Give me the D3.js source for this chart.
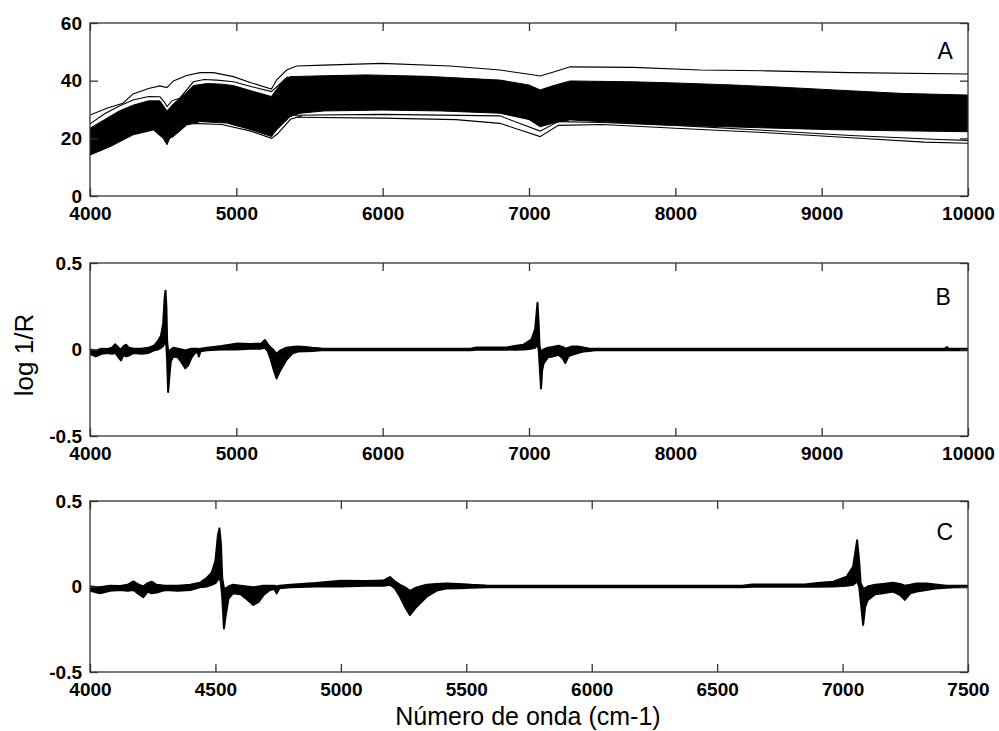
<!DOCTYPE html>
<html>
<head>
<meta charset="utf-8">
<script src="https://cdn.jsdelivr.net/npm/d3@7"></script>
<style>
  body { margin: 0; background: #fff; }
  .tick text { font-family: "Liberation Sans", Arial, sans-serif; font-weight: bold; font-size: 19px; fill: #000; }
  .tick line { stroke: #333; stroke-width: 1.3; }
  .frame { fill: none; stroke: #333; stroke-width: 1.3; }
  .spec { fill: none; stroke: #000; stroke-width: 1.1; }
  .band { fill: #000; stroke: #000; stroke-width: 1; }
  .deriv { fill: #000; stroke: #000; stroke-width: 2; stroke-linejoin: round; }
  .label { font-family: "Liberation Sans", Arial, sans-serif; fill: #000; }
</style>
</head>
<body>
<svg id="chart" width="999" height="731"></svg>
<script>
// Panel A: raw spectra as [wavenumber, value] pairs.
var topLine = [[4000,28.1],[4120,30.5],[4225,32.2],[4294,35.4],[4400,37.3],[4478,38.2],[4526,37.6],[4570,39.9],
  [4660,41.8],[4752,42.8],[4843,42.8],[4980,41.4],[5100,39.3],[5240,37.1],[5275,40.2],[5344,43.7],[5412,45.1],
  [5600,45.4],[5994,46.0],[6460,45.1],[6802,43.7],[7000,42.2],[7076,41.6],[7180,43.2],[7281,44.8],[7712,44.6],
  [8170,43.7],[8626,43.4],[9194,42.8],[10000,42.3]];

var secondLine = [[4000,25.0],[4100,28.5],[4200,31.2],[4294,33.3],[4400,34.5],[4478,34.4],[4510,32.5],[4526,31.0],
  [4560,33.0],[4615,34.0],[4706,39.6],[4780,40.4],[4866,40.2],[4980,39.6],[5100,38.0],[5240,36.2],[5290,38.5],
  [5350,41.4]];

var bandTop = [[4000,23.5],[4100,26.5],[4200,29.5],[4294,31.5],[4400,33.0],[4478,33.0],[4526,29.5],[4570,32.0],
  [4650,35.5],[4706,38.3],[4800,39.0],[4900,38.8],[4980,38.3],[5100,36.5],[5240,34.5],[5275,37.0],[5330,40.5],
  [5367,41.4],[5600,41.7],[5891,42.0],[6300,41.5],[6802,40.2],[7000,38.5],[7076,36.8],[7180,38.5],[7281,39.9],
  [7712,39.6],[8000,39.2],[8394,38.5],[8700,37.8],[9080,36.8],[9536,35.6],[10000,35.0]];

var bandBottom = [[4000,14.2],[4137,17.1],[4294,21.2],[4433,22.9],[4500,20.0],[4526,17.8],[4545,20.0],[4570,20.6],
  [4661,24.6],[4752,25.8],[4934,25.3],[5100,23.0],[5207,21.2],[5240,20.6],[5275,22.9],[5367,27.5],[5435,28.7],
  [5600,29.5],[6000,29.8],[6400,29.5],[6802,28.7],[7000,26.5],[7076,24.0],[7180,25.5],[7281,26.4],[7486,25.8],
  [7942,24.6],[8626,23.6],[9080,23.0],[9536,22.6],[10000,22.3]];

var lowLineLeft = [[4560,24.0],[4700,25.2],[4900,24.8],[5100,22.5],[5240,20.0],[5280,21.5],[5370,26.6],[5450,27.8]];
var lowLineA = [[5400,28.0],[6000,28.3],[6800,27.8],[7076,22.5],[7200,25.8],[7500,25.5],[8000,24.5],[8600,22.8],
  [9200,21.0],[9800,19.6],[10000,19.3]];
var lowLineB = [[5400,27.3],[6000,27.0],[6500,26.5],[6802,25.2],[7076,20.6],[7200,24.5],[7500,24.8],[8000,23.5],
  [8600,22.0],[9200,20.2],[9700,18.7],[10000,18.3]];

// Panels B and C: derivative spectra envelope (same data, C is a zoom of B).
var derivWn = [4000,4040,4080,4120,4150,4173,4195,4212,4230,4246,4265,4300,4350,4400,4438,4465,4485,4500,4510,4516,
  4522,4527,4534,4542,4552,4570,4600,4625,4651,4672,4692,4717,4735,4744,4755,4800,4900,5000,5100,5170,5196,5215,
  5236,5256,5275,5302,5342,5382,5420,5470,5520,5580,5650,6600,6640,6850,6900,6963,7016,7042,7058,7066,7072,7082,
  7090,7100,7130,7161,7201,7230,7248,7270,7295,7334,7370,7414,7450,9840,9855,9870,10000];
var derivHi = [0.0,-0.005,0.005,0.003,0.01,0.03,0.01,0.0,0.02,0.028,0.01,0.005,0.005,0.01,0.022,0.05,0.08,0.15,0.30,
  0.34,0.25,0.05,-0.01,-0.01,0.0,0.01,0.005,0.0,-0.005,0.0,0.005,0.005,0.005,0.0,0.005,0.01,0.02,0.034,0.032,0.035,
  0.055,0.03,0.01,-0.005,-0.025,-0.005,0.01,0.015,0.018,0.015,0.01,0.006,0.004,0.004,0.012,0.012,0.02,0.028,0.057,
  0.116,0.27,0.15,0.02,-0.01,-0.01,0.0,0.01,0.015,0.022,0.015,0.005,0.01,0.018,0.018,0.012,0.005,0.004,0.004,0.014,
  0.004,0.004];
var derivLo = [-0.025,-0.04,-0.025,-0.02,-0.025,-0.02,-0.045,-0.063,-0.03,-0.04,-0.035,-0.02,-0.025,-0.02,-0.005,0.0,
  0.01,0.02,0.04,0.06,0.02,-0.06,-0.245,-0.16,-0.07,-0.04,-0.045,-0.075,-0.108,-0.09,-0.05,-0.02,-0.015,-0.04,-0.01,
  -0.005,0.0,0.0,0.005,0.005,0.01,-0.01,-0.06,-0.12,-0.167,-0.118,-0.06,-0.024,-0.012,-0.01,-0.008,-0.005,-0.004,
  -0.004,-0.002,0.0,-0.002,0.0,0.005,0.01,0.03,0.0,-0.08,-0.225,-0.12,-0.08,-0.045,-0.04,-0.03,-0.05,-0.078,-0.04,
  -0.03,-0.02,-0.012,-0.008,-0.004,-0.004,-0.004,-0.004,-0.004];

var ticksWide = [4000,5000,6000,7000,8000,9000,10000];
var ticksZoom = [4000,4500,5000,5500,6000,6500,7000,7500];
var ticksA = [0,20,40,60];
var ticksDeriv = [-0.5,0,0.5];
var panelNames = ["A","B","C"];

var svg = d3.select("#chart");
var left = 90, right = 968;

var panels = [
  { name: panelNames[0], top: 23,  bottom: 196, xDom: [4000,10000], yDom: [0,60],     xt: ticksWide, yt: ticksA,     lab: [9844, 47.5] },
  { name: panelNames[1], top: 263, bottom: 436, xDom: [4000,10000], yDom: [-0.5,0.5], xt: ticksWide, yt: ticksDeriv, lab: [9830, 0.255] },
  { name: panelNames[2], top: 501, bottom: 672, xDom: [4000,7500],  yDom: [-0.5,0.5], xt: ticksZoom, yt: ticksDeriv, lab: [7408, 0.27] }
];

panels.forEach(function(p, i) {
  var x = d3.scaleLinear().domain(p.xDom).range([left, right]);
  var y = d3.scaleLinear().domain(p.yDom).range([p.bottom, p.top]);
  var line = d3.line().x(function(d) { return x(d[0]); }).y(function(d) { return y(d[1]); });

  svg.append("clipPath").attr("id", "clip" + i)
    .append("rect").attr("x", left).attr("y", p.top).attr("width", right - left).attr("height", p.bottom - p.top);

  var plot = svg.append("g").attr("clip-path", "url(#clip" + i + ")");

  if (i === 0) {
    // The dense bundle of spectra is drawn as a filled band between its envelopes.
    plot.append("path").attr("class", "band")
      .attr("d", line(bandTop.concat(bandBottom.slice().reverse())) + "Z");
    [topLine, secondLine, lowLineLeft, lowLineA, lowLineB].forEach(function(s) {
      plot.append("path").attr("class", "spec").attr("d", line(s));
    });
  } else {
    var pts = derivWn.map(function(w, k) { return { w: w, hi: derivHi[k], lo: derivLo[k] }; });
    var area = d3.area()
      .x(function(d) { return x(d.w); })
      .y0(function(d) { return y(d.lo); })
      .y1(function(d) { return y(d.hi); });
    plot.append("path").attr("class", "deriv").attr("d", area(pts));
  }

  // Inward ticks on all four sides, labels only bottom and left.
  svg.append("g").attr("transform", "translate(0," + p.bottom + ")")
    .call(d3.axisBottom(x).tickValues(p.xt).tickSize(-8).tickPadding(11).tickFormat(d3.format("d")))
    .call(function(g) { g.select(".domain").remove(); });
  svg.append("g").attr("transform", "translate(0," + p.top + ")")
    .call(d3.axisTop(x).tickValues(p.xt).tickSize(-8).tickFormat(""))
    .call(function(g) { g.select(".domain").remove(); });
  svg.append("g").attr("transform", "translate(" + left + ",0)")
    .call(d3.axisLeft(y).tickValues(p.yt).tickSize(-8).tickPadding(8).tickFormat(function(d) { return String(d); }))
    .call(function(g) { g.select(".domain").remove(); });
  svg.append("g").attr("transform", "translate(" + right + ",0)")
    .call(d3.axisRight(y).tickValues(p.yt).tickSize(-8).tickFormat(""))
    .call(function(g) { g.select(".domain").remove(); });

  svg.append("rect").attr("class", "frame")
    .attr("x", left).attr("y", p.top).attr("width", right - left).attr("height", p.bottom - p.top);

  svg.append("text").attr("class", "label")
    .attr("x", x(p.lab[0])).attr("y", y(p.lab[1]))
    .attr("text-anchor", "middle").style("font-size", "23px")
    .text(p.name);
});

svg.append("text").attr("class", "label")
  .attr("transform", "translate(33,355) rotate(-90)")
  .attr("text-anchor", "middle").style("font-size", "26px")
  .text("log 1/R");

svg.append("text").attr("class", "label")
  .attr("x", 528).attr("y", 725)
  .attr("text-anchor", "middle").style("font-size", "25px")
  .text("Número de onda (cm-1)");
</script>
</body>
</html>
